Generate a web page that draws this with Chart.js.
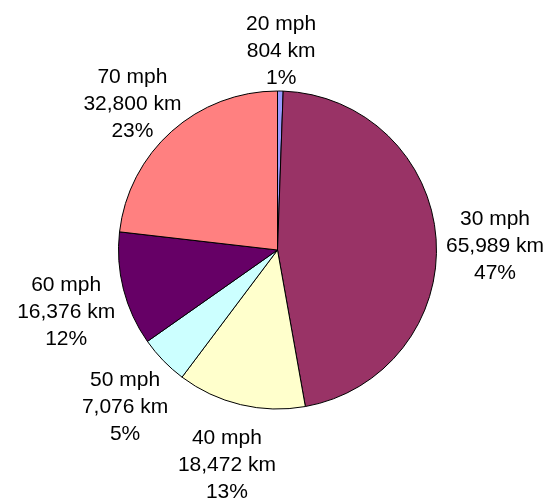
<!DOCTYPE html>
<html>
<head>
<meta charset="utf-8">
<script src="https://cdn.jsdelivr.net/npm/chart.js@4/dist/chart.umd.min.js"></script>
<style>
  html, body { margin: 0; padding: 0; background: #ffffff; }
  #wrap { width: 551px; height: 500px; position: relative; }
</style>
</head>
<body>
<div id="wrap"><canvas id="c" width="551" height="500"></canvas></div>
<script>
// Data
const categories = ["20 mph", "30 mph", "40 mph", "50 mph", "60 mph", "70 mph"];
const distancesKm = [804, 65989, 18472, 7076, 16376, 32800];
const sliceColors = ["#9999FF", "#993366", "#FFFFCC", "#CCFFFF", "#660066", "#FF8080"];

const total = distancesKm.reduce((a, b) => a + b, 0);

const FONT = '21px "Liberation Sans", Arial, sans-serif';
const LINE_H = 27;

const labelPlugin = {
  id: 'outerLabels',
  afterDatasetsDraw(chart) {
    const ctx = chart.ctx;
    const meta = chart.getDatasetMeta(0);
    ctx.save();
    ctx.font = FONT;
    ctx.fillStyle = '#000000';
    ctx.textAlign = 'center';
    ctx.textBaseline = 'middle';
    meta.data.forEach((arc, i) => {
      const p = arc.getProps(['x', 'y', 'startAngle', 'endAngle', 'outerRadius'], true);
      const mid = (p.startAngle + p.endAngle) / 2;
      const v = distancesKm[i];
      const lines = [
        categories[i],
        v.toLocaleString('en-US') + ' km',
        Math.round(v / total * 100) + '%'
      ];
      let w = 0;
      lines.forEach(t => { w = Math.max(w, ctx.measureText(t).width); });
      const hw = w / 2;
      const hh = (lines.length * LINE_H) / 2;
      const R = p.outerRadius + 10;
      const cx = p.x + R * Math.cos(mid) + hw * Math.cos(mid);
      const cy = p.y + R * Math.sin(mid) + hh * Math.sin(mid) + 11;
      lines.forEach((t, k) => {
        ctx.fillText(t, cx, cy + (k - (lines.length - 1) / 2) * LINE_H);
      });
    });
    ctx.restore();
  }
};

new Chart(document.getElementById('c'), {
  type: 'pie',
  data: {
    labels: categories,
    datasets: [{
      data: distancesKm,
      backgroundColor: sliceColors,
      borderColor: '#000000',
      borderWidth: 1
    }]
  },
  options: {
    responsive: false,
    animation: false,
    layout: { padding: { top: 90, bottom: 90, left: 118, right: 114 } },
    plugins: {
      legend: { display: false },
      tooltip: { enabled: false },
      title: { display: false }
    }
  },
  plugins: [labelPlugin]
});
</script>
</body>
</html>
